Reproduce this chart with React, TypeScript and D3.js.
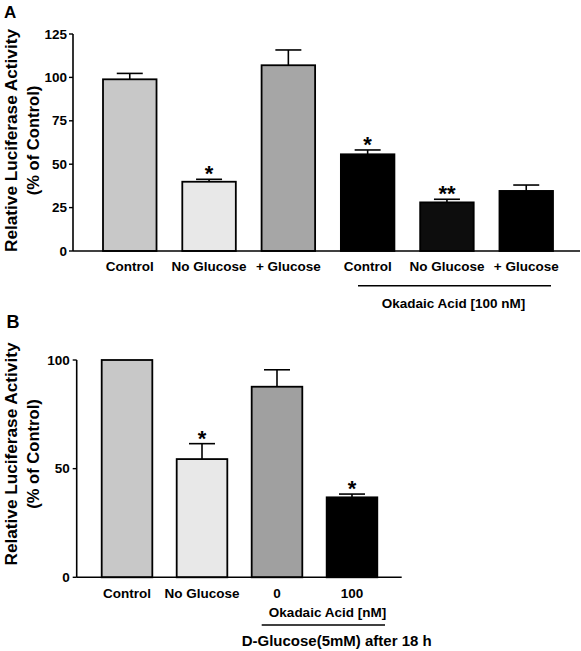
import React from "react";
import * as d3 from "d3";

// Panel A data
const catsA = ["Control", "No Glucose", "+ Glucose", "OA Control", "OA No Glucose", "OA + Glucose"];
const labelsA = ["Control", "No Glucose", "+ Glucose", "Control", "No Glucose", "+ Glucose"];
const valuesA = [98.9, 39.9, 107, 55.7, 28.0, 34.6];
const errorsA = [3.4, 1.4, 8.8, 2.5, 1.8, 3.4];
const starsA = ["", "*", "", "*", "**", ""];
const fillsA = ["#c8c8c8", "#e8e8e8", "#a6a6a6", "#000000", "#0d0d0d", "#000000"];
const ticksA = [0, 25, 50, 75, 100, 125];

// Panel B data
const catsB = ["Control", "No Glucose", "OA 0", "OA 100"];
const labelsB = ["Control", "No Glucose", "0", "100"];
const valuesB = [100, 54.4, 87.7, 36.8];
const errorsB = [0, 7.1, 7.8, 1.5];
const starsB = ["", "*", "", "*"];
const fillsB = ["#c8c8c8", "#e8e8e8", "#a0a0a0", "#000000"];
const ticksB = [0, 50, 100];

const FONT = "'Liberation Sans', Arial, sans-serif";

export default function App() {
  const yA = d3.scaleLinear().domain([0, 125]).range([251, 34]);
  const xA = d3.scaleBand<string>().domain(catsA).range([103, 553]).paddingInner(0.325).paddingOuter(0);
  const yB = d3.scaleLinear().domain([0, 100]).range([577.3, 360]);
  const xB = d3.scaleBand<string>().domain(catsB).range([101.7, 377.3]).paddingInner(0.325).paddingOuter(0);

  const axA = 73;
  const axB = 76.7;

  const renderBars = (
    cats: string[], vals: number[], errs: number[], stars: string[], fills: string[],
    x: d3.ScaleBand<string>, y: d3.ScaleLinear<number, number>
  ) =>
    cats.map((c, i) => {
      const x0 = x(c)!;
      const w = x.bandwidth();
      const cx = x0 + w / 2;
      const top = y(vals[i]);
      const etop = y(vals[i] + errs[i]);
      const base = y(0);
      return (
        <g key={c}>
          {errs[i] > 0 && (
            <g stroke="#000" strokeWidth={1.6}>
              <line x1={cx} x2={cx} y1={top} y2={etop} />
              <line x1={cx - 13} x2={cx + 13} y1={etop} y2={etop} />
            </g>
          )}
          <rect x={x0} y={top} width={w} height={base - top} fill={fills[i]} stroke="#000" strokeWidth={1.8} />
          {stars[i] && (
            <text x={cx} y={etop + 2} textAnchor="middle" fontSize={22} fontWeight="bold" fontFamily={FONT}>
              {stars[i]}
            </text>
          )}
        </g>
      );
    });

  return (
    <svg width={581} height={651} style={{ position: "absolute", left: 0, top: 0, background: "#fff" }} fontFamily={FONT}>
      <rect x={0} y={0} width={581} height={651} fill="#fff" />
      {/* Panel A */}
      <text x={4} y={17.5} fontSize={17} fontWeight="bold">A</text>
      <text transform="translate(16.5,140.5) rotate(-90)" textAnchor="middle" fontSize={17.2} fontWeight="bold">Relative Luciferase Activity</text>
      <text transform="translate(38.5,140.5) rotate(-90)" textAnchor="middle" fontSize={16.6} fontWeight="bold">(% of Control)</text>
      {renderBars(catsA, valuesA, errorsA, starsA, fillsA, xA, yA)}
      <line x1={axA} x2={axA} y1={yA(125)} y2={yA(0)} stroke="#000" strokeWidth={1.6} />
      <line x1={axA} x2={580} y1={yA(0)} y2={yA(0)} stroke="#000" strokeWidth={1.6} />
      {ticksA.map((t) => (
        <g key={t}>
          <line x1={axA - 4} x2={axA} y1={yA(t)} y2={yA(t)} stroke="#000" strokeWidth={1.4} />
          <text x={axA - 6} y={yA(t) + 4.5} textAnchor="end" fontSize={13.5} fontWeight="bold">{t}</text>
        </g>
      ))}
      {catsA.map((c, i) => (
        <text key={c} x={xA(c)! + xA.bandwidth() / 2} y={271} textAnchor="middle" fontSize={13.5} fontWeight="bold">{labelsA[i]}</text>
      ))}
      <line x1={358} x2={551} y1={285.7} y2={285.7} stroke="#000" strokeWidth={1.6} />
      <text x={453.5} y={308} textAnchor="middle" fontSize={13.5} fontWeight="bold">Okadaic Acid [100 nM]</text>

      {/* Panel B */}
      <text x={6.5} y={328} fontSize={18} fontWeight="bold">B</text>
      <text transform="translate(16.5,454) rotate(-90)" textAnchor="middle" fontSize={17.2} fontWeight="bold">Relative Luciferase Activity</text>
      <text transform="translate(38.5,454) rotate(-90)" textAnchor="middle" fontSize={16.6} fontWeight="bold">(% of Control)</text>
      {renderBars(catsB, valuesB, errorsB, starsB, fillsB, xB, yB)}
      <line x1={axB} x2={axB} y1={yB(100)} y2={yB(0)} stroke="#000" strokeWidth={1.6} />
      <line x1={axB} x2={401.7} y1={yB(0)} y2={yB(0)} stroke="#000" strokeWidth={1.6} />
      {ticksB.map((t) => (
        <g key={t}>
          <line x1={axB - 4} x2={axB} y1={yB(t)} y2={yB(t)} stroke="#000" strokeWidth={1.4} />
          <text x={axB - 7} y={yB(t) + 4.5} textAnchor="end" fontSize={13.5} fontWeight="bold">{t}</text>
        </g>
      ))}
      {catsB.map((c, i) => (
        <text key={c} x={xB(c)! + xB.bandwidth() / 2} y={598} textAnchor="middle" fontSize={13.5} fontWeight="bold">{labelsB[i]}</text>
      ))}
      <text x={327.5} y={617} textAnchor="middle" fontSize={13.5} fontWeight="bold">Okadaic Acid [nM]</text>
      <line x1={261.7} x2={385} y1={625} y2={625} stroke="#000" strokeWidth={1.6} />
      <text x={336.7} y={646} textAnchor="middle" fontSize={15} fontWeight="bold">D-Glucose(5mM) after 18 h</text>
    </svg>
  );
}
